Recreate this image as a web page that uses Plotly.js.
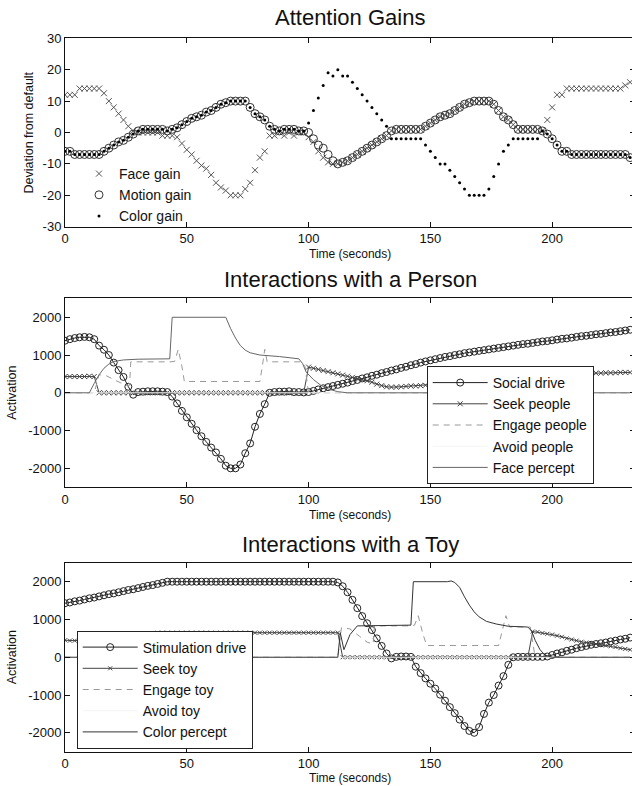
<!DOCTYPE html>
<html>
<head>
<meta charset="utf-8">
<script src="https://cdn.plot.ly/plotly-3.0.1.min.js"></script>
<style>
html,body{margin:0;padding:0;overflow:hidden;background:#fff;}
#chart{width:640px;height:786px;}
</style>
</head>
<body>
<div id="chart"></div>
<script>
// ---------- shared time grid (seconds) ----------
const timeGrid = [
  0,2,4,6,8,10,12,14,16,18,
  20,22,24,26,28,30,32,34,36,38,
  40,42,44,46,48,50,52,54,56,58,
  60,62,64,66,68,70,72,74,76,78,
  80,82,84,86,88,90,92,94,96,98,
  100,102,104,106,108,110,112,114,116,118,
  120,122,124,126,128,130,132,134,136,138,
  140,142,144,146,148,150,152,154,156,158,
  160,162,164,166,168,170,172,174,176,178,
  180,182,184,186,188,190,192,194,196,198,
  200,202,204,206,208,210,212,214,216,218,
  220,222,224,226,228,230,232
];

// ---------- Attention Gains ----------
const faceGain = [
  12,12,12,14,14,14,14,14,12.5,10,
  8,6,4,2,0.5,0,0,0,0,0,
  -1,-1,-1,-1.5,-3.5,-5.5,-7,-9,-10.5,-11.5,
  -13.5,-16,-17.5,-18.5,-20,-20,-20,-18,-16,-12,
  -8,-6,-1,-1,0,-1,0,-1,0,0,
  -1.5,-3,-6,-8,-9.5,-10,-10,-9.5,-9,-8,
  -7,-6,-5,-4,-3,-2,-1,0.5,1,1,
  1,1,1,1,2,3,4,5,5.5,6,
  7,8,9,9.5,10,10,10,10,9,7,
  5,4,2.5,1,1,1,1,1,0.5,4,
  8,12,12,14,14,14,14,14,14,14,
  14,14,14,14,14,15,16
];
const motionGain = [
  -6,-6,-7,-7,-7,-7,-7,-7,-6,-5,
  -4,-3,-2.5,-1.5,-0.5,0.5,1,1,1,1,
  1,0.5,1,1.5,2.5,3.5,4.5,5,5.5,6.5,
  7,8,9,9.5,10,10,10,10,8,6,
  5,4,2,1,0.5,1,1,1,0.5,0.5,
  0,-2,-4,-5,-7,-9,-10,-9.5,-9,-8,
  -7,-6,-5,-4,-3,-2,-1,0.5,1,1,
  1,1,1,1,2,3,4,5,5.5,6,
  7,8,9,9.5,10,10,10,10,9,7,
  5,4,2.5,1,1,1,1,1,0.5,-0.5,
  -2,-4,-6,-6,-7,-7,-7,-7,-7,-7,
  -7,-7,-7,-7,-7,-7,-8
];
const colorGain = [
  -6,-6,-7,-7,-7,-7,-7,-7,-6,-5,
  -4,-3,-2.5,-1.5,-0.5,0.5,1,1,1,1,
  1,0.5,1,1.5,2.5,3.5,4.5,5,5.5,6.5,
  7,8,9,9.5,10,10,10,10,8,6,
  5,4,2,1,0.5,1,1,1,0.5,0.5,
  3,7,11,15,19,18,20,18,18,16,
  14,12,10,8,6,4,2,-2,-2,-2,
  -2,-2,-2,-2,-4,-6,-8,-10,-10,-12,
  -14,-16,-18,-20,-20,-20,-20,-18,-14,-10,
  -6,-4,-2,-2,-2,-2,-2,-2,0.5,-0.5,
  -2,-4,-6,-6,-7,-7,-7,-7,-7,-7,
  -7,-7,-7,-7,-7,-7,-8
];

// ---------- Interactions with a Person ----------
const socialDrive = [
  1380,1420,1450,1470,1480,1470,1420,1250,1140,1000,
  800,600,420,160,-50,20,30,40,40,40,
  30,20,-100,-280,-480,-650,-820,-990,-1150,-1300,
  -1450,-1580,-1750,-1930,-2000,-2000,-1900,-1600,-1340,-900,
  -560,-300,0,20,30,30,40,20,20,10,
  20,50,90,120,150,180,210,240,270,310,
  340,380,410,450,480,520,550,590,620,660,
  690,730,760,800,830,860,890,920,950,970,
  1000,1020,1050,1070,1090,1110,1130,1150,1170,1190,
  1210,1230,1250,1270,1290,1300,1320,1340,1360,1370,
  1390,1410,1430,1440,1460,1480,1500,1510,1530,1550,
  1560,1580,1600,1610,1630,1650,1670
];
const seekPeople = [
  430,430,430,430,430,440,430,0,0,0,
  0,0,0,0,0,0,0,0,0,0,
  0,0,0,0,0,0,0,0,0,0,
  0,0,0,0,0,0,0,0,0,0,
  0,0,0,0,0,0,0,0,0,0,
  680,650,620,590,560,530,500,470,440,410,
  380,350,320,280,230,190,160,150,150,160,
  170,180,180,190,200,210,220,230,240,250,
  260,270,280,290,300,310,320,330,340,350,
  360,370,380,390,400,410,420,430,440,450,
  460,470,480,490,500,500,510,510,520,520,
  520,530,530,530,540,540,540
];
const engagePeopleT = [0,12,14,17,21,25,26.5,27,43,45,46.5,48,49,80,81,82,83,97,98.5,100,232];
const engagePeople  = [0,0,480,450,320,200,200,820,820,830,1150,700,300,300,700,1150,820,820,700,0,0];
const avoidPeopleT = [0,232];
const avoidPeople  = [0,0];
const facePerceptT = [0,10,12,14,16,18,20,24,30,43,44,66,68,70,72,74,76,80,88,96,97.5,99,102,105,108,112,116,232];
const facePercept  = [0,0,250,480,650,760,830,870,890,900,2000,2000,1700,1450,1250,1130,1060,1000,960,900,780,550,350,200,100,30,0,0];

// ---------- Interactions with a Toy ----------
const stimulationDrive = [
  1430,1450,1480,1500,1530,1560,1580,1610,1640,1670,
  1690,1720,1750,1780,1800,1830,1860,1890,1910,1940,
  1970,2000,2000,2000,2000,2000,2000,2000,2000,2000,
  2000,2000,2000,2000,2000,2000,2000,2000,2000,2000,
  2000,2000,2000,2000,2000,2000,2000,2000,2000,2000,
  2000,2000,2000,2000,2000,2000,1980,1880,1720,1520,
  1300,1090,900,720,500,300,100,-30,10,20,
  20,10,-250,-420,-560,-700,-830,-990,-1150,-1320,
  -1480,-1650,-1820,-1950,-2000,-1850,-1500,-1200,-1000,-750,
  -500,-200,0,10,10,10,10,10,10,20,
  60,100,130,170,200,240,270,300,330,350,
  370,390,420,440,470,490,520
];
const seekToy = [
  450,440,440,450,470,480,500,510,520,530,
  550,560,570,580,600,610,620,630,640,650,
  650,650,650,650,650,650,650,650,650,650,
  650,650,650,650,650,650,650,650,650,650,
  650,650,650,650,650,650,650,650,650,650,
  650,650,650,650,650,650,650,0,0,0,
  0,0,0,0,0,0,0,0,0,0,
  0,0,0,0,0,0,0,0,0,0,
  0,0,0,0,0,0,0,0,0,0,
  0,0,0,0,0,0,680,670,640,620,
  600,570,540,500,470,440,410,390,370,350,
  330,310,290,270,240,220,200
];
const engageToyT = [0,112,113.5,117,121,124,126.5,127,142,143.5,145,147,148.5,178,179.5,181,182.5,191,193,232];
const engageToy  = [0,0,780,750,550,400,350,830,830,850,1100,600,310,310,700,1100,800,800,0,0];
const avoidToyT = [0,232];
const avoidToy  = [0,0];
const colorPerceptT = [0,112,113,114.5,117,120,142,143,157,158.5,160,162,164,166,168,170,173,177,182,190,191.5,193,195,197,200,232];
const colorPercept  = [0,0,650,200,600,830,850,2000,2000,2020,1980,1850,1600,1380,1200,1070,950,880,820,800,700,450,200,60,0,0];

// ---------- axis ticks ----------
const timeTicks = [0,50,100,150,200];
const gainTicks = [-30,-20,-10,0,10,20,30];
const gainTickText = ['-30','-20','-10','0','10','20','30'];
const actTicks = [-2000,-1000,0,1000,2000];
const actTickText = ['-2000','-1000','0','1000','2000'];

const FONT = 'Liberation Sans, Arial, Helvetica, sans-serif';
const INK = '#111';

const traces = [
  // Attention gains
  {x: timeGrid, y: faceGain, name: 'Face gain', type: 'scatter', mode: 'markers',
   xaxis: 'x', yaxis: 'y', legend: 'legend',
   marker: {symbol: 'x-thin-open', size: 6, color: '#555', line: {width: 1, color: '#555'}}},
  {x: timeGrid, y: motionGain, name: 'Motion gain', type: 'scatter', mode: 'markers',
   xaxis: 'x', yaxis: 'y', legend: 'legend',
   marker: {symbol: 'circle-open', size: 8, color: '#333', line: {width: 1, color: '#333'}}},
  {x: timeGrid, y: colorGain, name: 'Color gain', type: 'scatter', mode: 'markers',
   xaxis: 'x', yaxis: 'y', legend: 'legend',
   marker: {symbol: 'circle', size: 3, color: '#000'}},

  // Person
  {x: timeGrid, y: socialDrive, name: 'Social drive', type: 'scatter', mode: 'lines+markers',
   xaxis: 'x2', yaxis: 'y2', legend: 'legend2',
   line: {color: '#222', width: 1},
   marker: {symbol: 'circle-open', size: 7, color: '#222', line: {width: 1, color: '#222'}}},
  {x: timeGrid, y: seekPeople, name: 'Seek people', type: 'scatter', mode: 'lines+markers',
   xaxis: 'x2', yaxis: 'y2', legend: 'legend2',
   line: {color: '#444', width: 1},
   marker: {symbol: 'x-thin-open', size: 5, color: '#444', line: {width: 1, color: '#444'}}},
  {x: engagePeopleT, y: engagePeople, name: 'Engage people', type: 'scatter', mode: 'lines',
   xaxis: 'x2', yaxis: 'y2', legend: 'legend2',
   line: {color: '#999', width: 1, dash: '6px,5px'}},
  {x: avoidPeopleT, y: avoidPeople, name: 'Avoid people', type: 'scatter', mode: 'lines',
   xaxis: 'x2', yaxis: 'y2', legend: 'legend2',
   line: {color: '#f4f4f4', width: 1}},
  {x: facePerceptT, y: facePercept, name: 'Face percept', type: 'scatter', mode: 'lines',
   xaxis: 'x2', yaxis: 'y2', legend: 'legend2',
   line: {color: '#666', width: 1}},

  // Toy
  {x: timeGrid, y: stimulationDrive, name: 'Stimulation drive', type: 'scatter', mode: 'lines+markers',
   xaxis: 'x3', yaxis: 'y3', legend: 'legend3',
   line: {color: '#222', width: 1},
   marker: {symbol: 'circle-open', size: 7, color: '#222', line: {width: 1, color: '#222'}}},
  {x: timeGrid, y: seekToy, name: 'Seek toy', type: 'scatter', mode: 'lines+markers',
   xaxis: 'x3', yaxis: 'y3', legend: 'legend3',
   line: {color: '#444', width: 1},
   marker: {symbol: 'x-thin-open', size: 4, color: '#444', line: {width: 1, color: '#444'}}},
  {x: engageToyT, y: engageToy, name: 'Engage toy', type: 'scatter', mode: 'lines',
   xaxis: 'x3', yaxis: 'y3', legend: 'legend3',
   line: {color: '#999', width: 1, dash: '6px,5px'}},
  {x: avoidToyT, y: avoidToy, name: 'Avoid toy', type: 'scatter', mode: 'lines',
   xaxis: 'x3', yaxis: 'y3', legend: 'legend3',
   line: {color: '#f4f4f4', width: 1}},
  {x: colorPerceptT, y: colorPercept, name: 'Color percept', type: 'scatter', mode: 'lines',
   xaxis: 'x3', yaxis: 'y3', legend: 'legend3',
   line: {color: '#333', width: 1}}
];

function xAxis(anchor) {
  return {
    anchor: anchor, domain: [0, 1], range: [0, 234],
    tickvals: timeTicks, ticktext: timeTicks.map(String),
    ticks: 'inside', ticklen: 5, tickcolor: INK, tickwidth: 1,
    showline: true, linecolor: INK, linewidth: 1, mirror: 'ticks',
    showgrid: false, zeroline: false,
    tickfont: {size: 13, color: INK, family: FONT}
  };
}
function yAxis(anchor, dom, rng, tv, tt) {
  return {
    anchor: anchor, domain: dom, range: rng,
    tickvals: tv, ticktext: tt,
    ticks: 'inside', ticklen: 5, tickcolor: INK, tickwidth: 1,
    showline: true, linecolor: INK, linewidth: 1, mirror: 'ticks',
    showgrid: false, zeroline: false,
    tickfont: {size: 13, color: INK, family: FONT}
  };
}

const H = 786;
const py = px => 1 - px / H;

const layout = {
  width: 640, height: 786,
  margin: {l: 65, r: 5, t: 0, b: 0},
  paper_bgcolor: '#fff', plot_bgcolor: '#fff',
  font: {family: FONT, color: INK},
  xaxis: xAxis('y'),
  yaxis: yAxis('x', [py(226.7), py(38.3)], [-30, 30], gainTicks, gainTickText),
  xaxis2: xAxis('y2'),
  yaxis2: yAxis('x2', [py(487.2), py(298.4)], [-2500, 2500], actTicks, actTickText),
  xaxis3: xAxis('y3'),
  yaxis3: yAxis('x3', [py(751.7), py(562.8)], [-2500, 2500], actTicks, actTickText),
  legend: {
    x: (79 - 65) / 570, xanchor: 'left', y: py(158), yanchor: 'top',
    bgcolor: 'rgba(0,0,0,0)', borderwidth: 0,
    font: {size: 14, color: INK, family: FONT}, tracegroupgap: 0
  },
  legend2: {
    x: (426.7 - 65) / 570, xanchor: 'left', y: py(366), yanchor: 'top',
    bgcolor: '#fff', bordercolor: '#222', borderwidth: 1, itemwidth: 55,
    font: {size: 14, color: INK, family: FONT}, tracegroupgap: 0
  },
  legend3: {
    x: (76.7 - 65) / 570, xanchor: 'left', y: py(630.5), yanchor: 'top',
    bgcolor: '#fff', bordercolor: '#222', borderwidth: 1, itemwidth: 55,
    font: {size: 14, color: INK, family: FONT}, tracegroupgap: 0
  },
  annotations: [
    {text: 'Attention Gains', xref: 'paper', yref: 'paper', x: 0.5, y: py(17.5),
     xanchor: 'center', yanchor: 'middle', showarrow: false, font: {size: 22, color: INK}},
    {text: 'Interactions with a Person', xref: 'paper', yref: 'paper', x: 0.5, y: py(279),
     xanchor: 'center', yanchor: 'middle', showarrow: false, font: {size: 22, color: INK}},
    {text: 'Interactions with a Toy', xref: 'paper', yref: 'paper', x: 0.5, y: py(544),
     xanchor: 'center', yanchor: 'middle', showarrow: false, font: {size: 22, color: INK}},
    {text: 'Time (seconds)', xref: 'paper', yref: 'paper', x: 0.5, y: py(254),
     xanchor: 'center', yanchor: 'middle', showarrow: false, font: {size: 12, color: INK}},
    {text: 'Time (seconds)', xref: 'paper', yref: 'paper', x: 0.5, y: py(515),
     xanchor: 'center', yanchor: 'middle', showarrow: false, font: {size: 12, color: INK}},
    {text: 'Time (seconds)', xref: 'paper', yref: 'paper', x: 0.5, y: py(778),
     xanchor: 'center', yanchor: 'middle', showarrow: false, font: {size: 12, color: INK}},
    {text: 'Deviation from default', xref: 'paper', yref: 'paper', x: (29 - 65) / 570, y: py(132.5),
     xanchor: 'center', yanchor: 'middle', showarrow: false, textangle: -90, font: {size: 12.5, color: INK}},
    {text: 'Activation', xref: 'paper', yref: 'paper', x: (12 - 65) / 570, y: py(392.8),
     xanchor: 'center', yanchor: 'middle', showarrow: false, textangle: -90, font: {size: 12.5, color: INK}},
    {text: 'Activation', xref: 'paper', yref: 'paper', x: (12 - 65) / 570, y: py(657.3),
     xanchor: 'center', yanchor: 'middle', showarrow: false, textangle: -90, font: {size: 12.5, color: INK}}
  ]
};

Plotly.newPlot('chart', traces, layout, {displayModeBar: false, staticPlot: true});
</script>
</body>
</html>
